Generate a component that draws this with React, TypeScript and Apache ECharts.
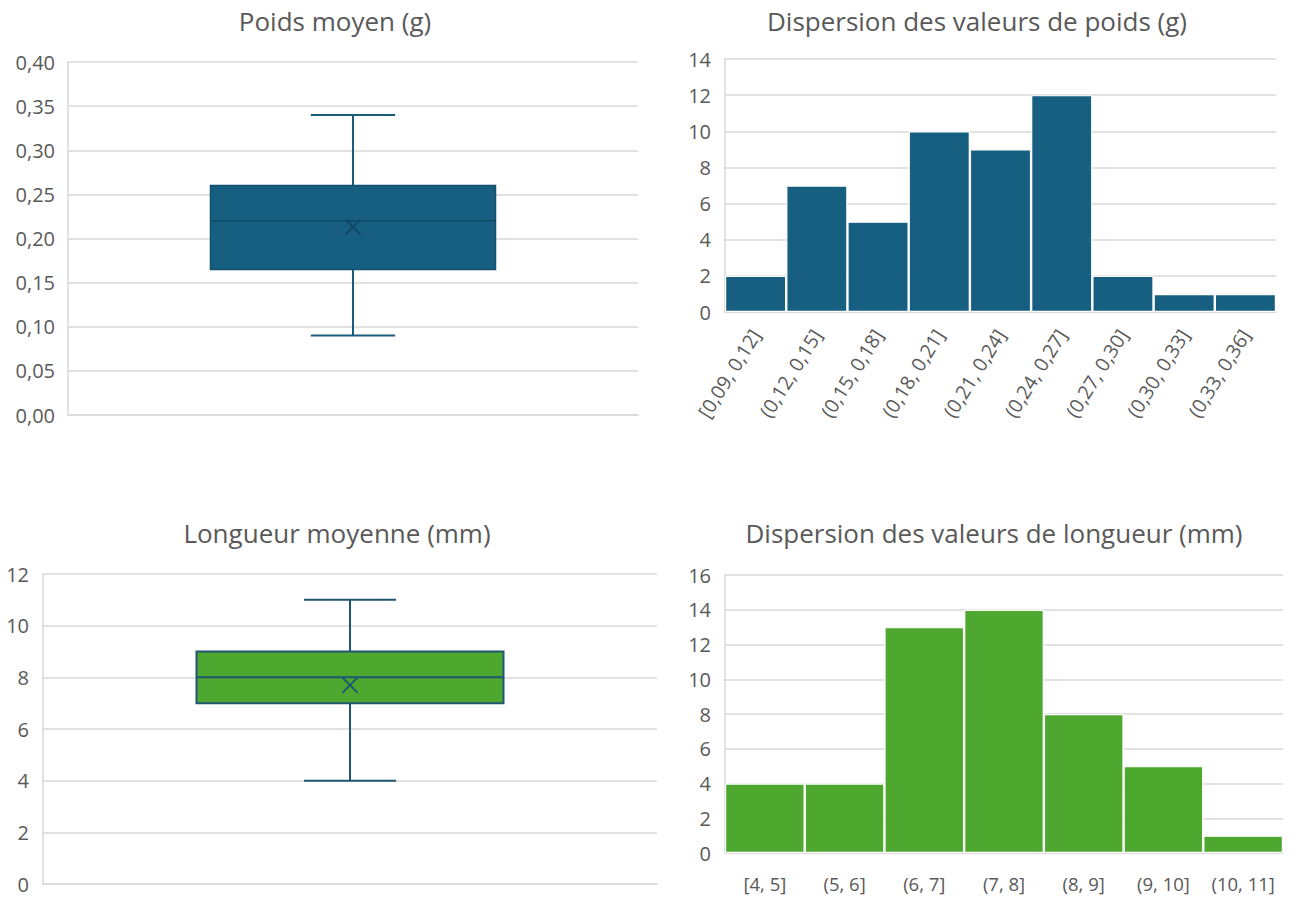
import React, { useEffect, useRef } from 'react';
import * as echarts from 'echarts';

// ---------- Data ----------
const titles = [
  'Poids moyen (g)',
  'Dispersion des valeurs de poids (g)',
  'Longueur moyenne (mm)',
  'Dispersion des valeurs de longueur (mm)',
];

// box plot: min, Q1, median, Q3, max, mean
const weightStats = [0.09, 0.165, 0.22, 0.26, 0.34];
const weightMean = 0.213;
const weightAxis = [0, 0.4, 0.05]; // min, max, interval

const lengthStats = [4, 7, 8, 9, 11];
const lengthMean = 7.7;
const lengthAxis = [0, 12, 2];

// histograms
const weightBins = [
  '[0,09, 0,12]',
  '(0,12, 0,15]',
  '(0,15, 0,18]',
  '(0,18, 0,21]',
  '(0,21, 0,24]',
  '(0,24, 0,27]',
  '(0,27, 0,30]',
  '(0,30, 0,33]',
  '(0,33, 0,36]',
];
const weightCounts = [2, 7, 5, 10, 9, 12, 2, 1, 1];
const weightCountAxis = [0, 14, 2];

const lengthBins = ['[4, 5]', '(5, 6]', '(6, 7]', '(7, 8]', '(8, 9]', '(9, 10]', '(10, 11]'];
const lengthCounts = [4, 4, 13, 14, 8, 5, 1];
const lengthCountAxis = [0, 16, 2];

// ---------- Styles ----------
const FONT = '"Open Sans", "Noto Sans", sans-serif';
const TEXT = '#595959';
const GRID = '#D9D9D9';
const BLUE = '#175F80';
const GREEN = '#4EA72E';

function boxRenderer(opts: {
  fill: string;
  border: string;
  borderWidth: number;
  whisker: string;
  median: string;
  mark: string;
  boxRatio: number;
  capRatio: number;
}) {
  return (params: any, api: any) => {
    const c = api.value(0);
    const band = api.size([1, 0])[0];
    const pMin = api.coord([c, api.value(1)]);
    const cx = pMin[0];
    const yMin = pMin[1];
    const yQ1 = api.coord([c, api.value(2)])[1];
    const yMed = api.coord([c, api.value(3)])[1];
    const yQ3 = api.coord([c, api.value(4)])[1];
    const yMax = api.coord([c, api.value(5)])[1];
    const yMean = api.coord([c, api.value(6)])[1];
    const hw = (band * opts.boxRatio) / 2;
    const cw = (band * opts.capRatio) / 2;
    const m = 7.5;
    const wStyle = { stroke: opts.whisker, lineWidth: 2 };
    return {
      type: 'group',
      children: [
        { type: 'line', shape: { x1: cx, y1: yMax, x2: cx, y2: yQ3 }, style: wStyle },
        { type: 'line', shape: { x1: cx, y1: yQ1, x2: cx, y2: yMin }, style: wStyle },
        { type: 'line', shape: { x1: cx - cw, y1: yMax, x2: cx + cw, y2: yMax }, style: wStyle },
        { type: 'line', shape: { x1: cx - cw, y1: yMin, x2: cx + cw, y2: yMin }, style: wStyle },
        {
          type: 'rect',
          shape: { x: cx - hw, y: yQ3, width: hw * 2, height: yQ1 - yQ3 },
          style: { fill: opts.fill, stroke: opts.border, lineWidth: opts.borderWidth },
        },
        {
          type: 'line',
          shape: { x1: cx - hw, y1: yMed, x2: cx + hw, y2: yMed },
          style: { stroke: opts.median, lineWidth: opts.borderWidth },
        },
        {
          type: 'line',
          shape: { x1: cx - m, y1: yMean - m, x2: cx + m, y2: yMean + m },
          style: { stroke: opts.mark, lineWidth: 2 },
        },
        {
          type: 'line',
          shape: { x1: cx - m, y1: yMean + m, x2: cx + m, y2: yMean - m },
          style: { stroke: opts.mark, lineWidth: 2 },
        },
      ],
    };
  };
}

function valueAxis(gridIndex: number, ax: number[], decimals: number, margin: number) {
  return {
    type: 'value',
    gridIndex,
    min: ax[0],
    max: ax[1],
    interval: ax[2],
    axisLine: { show: true, lineStyle: { color: GRID, width: 1.5 } },
    axisTick: { show: false },
    splitLine: { show: true, lineStyle: { color: GRID, width: 1.5 } },
    axisLabel: {
      color: TEXT,
      fontFamily: FONT,
      fontSize: 20,
      margin,
      formatter: (v: number) => v.toFixed(decimals).replace('.', ','),
    },
  };
}

export default function App() {
  const ref = useRef<HTMLDivElement>(null);

  useEffect(() => {
    if (!ref.current) return;
    const chart = echarts.init(ref.current, undefined, { renderer: 'svg' });
    const titleStyle = { color: TEXT, fontFamily: FONT, fontSize: 26, fontWeight: 'normal' as const };

    const option: any = {
      animation: false,
      backgroundColor: '#ffffff',
      title: [
        { text: titles[0], left: 330, top: 3, textAlign: 'center', textStyle: titleStyle },
        { text: titles[1], left: 972, top: 3, textAlign: 'center', textStyle: titleStyle },
        { text: titles[2], left: 332, top: 515, textAlign: 'center', textStyle: titleStyle },
        { text: titles[3], left: 989, top: 515, textAlign: 'center', textStyle: titleStyle },
      ],
      grid: [
        { left: 68, top: 62, width: 570, height: 353 },
        { left: 725, top: 59, width: 551, height: 253 },
        { left: 43, top: 574, width: 614, height: 310 },
        { left: 725, top: 575, width: 558, height: 278 },
      ],
      xAxis: [
        {
          type: 'category',
          gridIndex: 0,
          data: [''],
          axisLine: { show: true, lineStyle: { color: GRID, width: 1.5 } },
          axisTick: { show: false },
          axisLabel: { show: false },
        },
        {
          type: 'category',
          gridIndex: 1,
          data: weightBins,
          axisLine: { show: true, lineStyle: { color: GRID, width: 1.5 } },
          axisTick: { show: false },
          axisLabel: {
            color: TEXT,
            fontFamily: FONT,
            fontSize: 19.5,
            rotate: 58,
            interval: 0,
            margin: 19,
          },
        },
        {
          type: 'category',
          gridIndex: 2,
          data: [''],
          axisLine: { show: true, lineStyle: { color: GRID, width: 1.5 } },
          axisTick: { show: false },
          axisLabel: { show: false },
        },
        {
          type: 'category',
          gridIndex: 3,
          data: lengthBins,
          axisLine: { show: true, lineStyle: { color: GRID, width: 1.5 } },
          axisTick: { show: false },
          axisLabel: {
            color: TEXT,
            fontFamily: FONT,
            fontSize: 18.5,
            interval: 0,
            margin: 21,
          },
        },
      ],
      yAxis: [
        valueAxis(0, weightAxis, 2, 13),
        valueAxis(1, weightCountAxis, 0, 14),
        valueAxis(2, lengthAxis, 0, 14),
        valueAxis(3, lengthCountAxis, 0, 14),
      ],
      series: [
        {
          type: 'custom',
          xAxisIndex: 0,
          yAxisIndex: 0,
          encode: { x: 0, y: [1, 2, 3, 4, 5, 6] },
          data: [[0, ...weightStats, weightMean]],
          renderItem: boxRenderer({
            fill: BLUE,
            border: '#124F6C',
            borderWidth: 1.5,
            whisker: '#1B5C7A',
            median: '#0F4862',
            mark: '#0F4862',
            boxRatio: 0.5,
            capRatio: 0.148,
          }),
        },
        {
          type: 'bar',
          xAxisIndex: 1,
          yAxisIndex: 1,
          data: weightCounts,
          barCategoryGap: '0%',
          itemStyle: { color: BLUE, borderColor: '#ffffff', borderWidth: 1.2 },
        },
        {
          type: 'custom',
          xAxisIndex: 2,
          yAxisIndex: 2,
          encode: { x: 0, y: [1, 2, 3, 4, 5, 6] },
          data: [[0, ...lengthStats, lengthMean]],
          renderItem: boxRenderer({
            fill: GREEN,
            border: '#1F5673',
            borderWidth: 2,
            whisker: '#1F5673',
            median: '#1F5673',
            mark: '#1F5673',
            boxRatio: 0.5,
            capRatio: 0.15,
          }),
        },
        {
          type: 'bar',
          xAxisIndex: 3,
          yAxisIndex: 3,
          data: lengthCounts,
          barCategoryGap: '0%',
          itemStyle: { color: GREEN, borderColor: '#ffffff', borderWidth: 1.2 },
        },
      ],
    };

    chart.setOption(option);
    return () => chart.dispose();
  }, []);

  return (
    <div
      ref={ref}
      style={{ position: 'absolute', left: 0, top: 0, width: 1292, height: 899, background: '#fff' }}
    />
  );
}
